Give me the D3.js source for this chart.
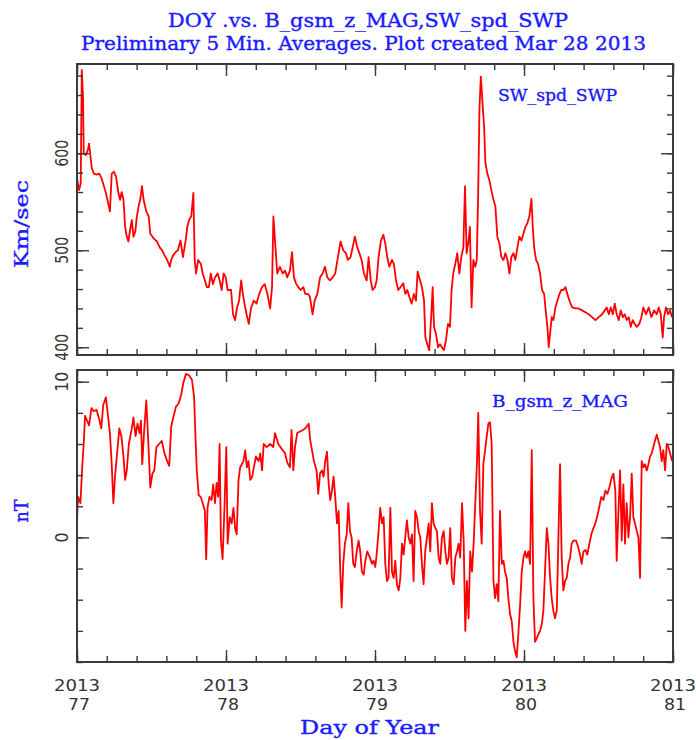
<!DOCTYPE html>
<html>
<head>
<meta charset="utf-8">
<script src="https://cdn.jsdelivr.net/npm/d3@7"></script>
<style>
	html, body { margin: 0; padding: 0; background: #fff; }
	#chart { width: 696px; height: 740px; }
	.axis line { stroke: #3a3a3a; stroke-width: 1.4; }
	.tick-label { font-family: "DejaVu Sans", sans-serif; fill: #333; }
	.blue-label { font-family: "DejaVu Serif", serif; fill: #1a1aff; stroke: #1a1aff; stroke-width: 0.35; }
</style>
</head>
<body>
<div id="chart"></div>
<script>
// ----------------------------------
// DATA
// ----------------------------------

const dayTicks = [77, 78, 79, 80, 81];
const yearLabel = "2013";

const speedTicks = [400, 500, 600];
const bzTicks = [0, 10];

// SW_spd_SWP, Km/sec
const swDoy = [
	77.000,77.014,77.025,77.032,77.041,77.045,77.059,77.074,77.081,77.090,77.099,77.113,77.131,77.149,77.165,77.181,
	77.194,77.210,77.221,77.233,77.248,77.262,77.278,77.289,77.300,77.312,77.323,77.334,77.345,77.357,77.368,77.379,
	77.391,77.402,77.413,77.424,77.436,77.447,77.465,77.481,77.492,77.515,77.537,77.555,77.571,77.587,77.605,77.623,
	77.632,77.646,77.661,77.677,77.695,77.711,77.729,77.740,77.752,77.767,77.781,77.790,77.799,77.813,77.831,77.844,
	77.858,77.871,77.885,77.898,77.912,77.926,77.944,77.957,77.971,77.984,77.998,78.011,78.034,78.047,78.061,78.074,
	78.088,78.102,78.113,78.124,78.138,78.153,78.169,78.187,78.205,78.223,78.242,78.260,78.278,78.296,78.309,78.318,
	78.332,78.344,78.362,78.380,78.396,78.411,78.429,78.443,78.456,78.469,78.485,78.501,78.519,78.532,78.550,78.563,
	78.581,78.595,78.613,78.631,78.648,78.664,78.680,78.698,78.716,78.733,78.751,78.769,78.787,78.805,78.818,78.836,
	78.850,78.865,78.881,78.895,78.910,78.926,78.944,78.957,78.971,78.984,79.000,79.011,79.024,79.040,79.056,79.069,
	79.082,79.096,79.114,79.127,79.141,79.156,79.172,79.190,79.203,79.217,79.230,79.246,79.261,79.275,79.286,79.302,
	79.315,79.329,79.338,79.351,79.364,79.378,79.387,79.396,79.409,79.423,79.436,79.449,79.463,79.476,79.490,79.503,
	79.514,79.525,79.539,79.552,79.566,79.579,79.593,79.604,79.615,79.628,79.637,79.648,79.660,79.673,79.683,79.692,
	79.701,79.710,79.716,79.723,79.732,79.741,79.754,79.768,79.781,79.795,79.808,79.821,79.835,79.848,79.862,79.875,
	79.889,79.902,79.915,79.929,79.942,79.956,79.969,79.983,79.996,80.009,80.023,80.036,80.050,80.059,80.068,80.081,
	80.094,80.108,80.121,80.135,80.148,80.157,80.166,80.175,80.186,80.197,80.211,80.224,80.238,80.251,80.264,80.278,
	80.291,80.305,80.323,80.345,80.367,80.390,80.412,80.434,80.457,80.479,80.502,80.524,80.542,80.555,80.569,80.582,
	80.596,80.609,80.622,80.636,80.649,80.663,80.676,80.689,80.703,80.716,80.730,80.743,80.757,80.774,80.788,80.801,
	80.819,80.837,80.855,80.873,80.891,80.904,80.918,80.931,80.940,80.953,80.967,80.980,80.994
];
const swSpeed = [
	574,562,569,686,655,600,598,604,610,597,585,579,578,579,574,566,
	559,548,540,579,581,576,559,552,560,552,524,514,509,522,531,514,
	519,535,545,552,566,552,540,535,517,512,509,503,500,495,490,483,
	490,495,498,500,510,493,510,524,531,535,559,490,476,490,486,476,
	469,462,462,476,465,472,476,469,459,476,472,459,459,434,428,441,
	448,469,455,445,434,424,441,448,445,455,462,465,455,440,462,535,
	503,476,483,476,479,472,479,498,472,466,462,459,462,455,455,452,
	434,448,455,472,476,483,472,469,472,476,493,509,500,497,490,493,
	503,514,503,497,490,476,469,493,469,459,462,469,493,510,516,507,
	493,483,490,486,469,459,462,466,455,459,452,445,455,448,478,469,
	462,448,410,403,397,434,462,421,414,400,403,400,397,407,424,421,
	459,476,486,497,476,493,503,566,497,510,524,441,490,483,490,555,
	645,679,666,648,628,590,579,572,562,552,545,514,507,493,490,497,
	490,476,493,497,490,503,514,510,517,524,528,535,553,524,503,490,
	486,476,459,455,434,421,400,414,431,428,441,448,455,459,459,462,
	455,448,441,440,440,438,436,434,431,428,431,434,438,441,434,441,
	434,445,434,428,438,431,434,428,431,421,428,424,421,424,431,441,
	434,441,431,438,434,441,434,410,431,441,434,438,431
];

// B_gsm_z_MAG, nT
const bzDoy = [
	77.000,77.007,77.023,77.036,77.045,77.054,77.068,77.081,77.097,77.113,77.131,77.149,77.163,77.176,77.194,77.208,
	77.221,77.233,77.244,77.255,77.271,77.284,77.298,77.312,77.323,77.334,77.348,77.366,77.379,77.393,77.406,77.420,
	77.429,77.438,77.451,77.465,77.479,77.492,77.506,77.519,77.533,77.551,77.569,77.587,77.605,77.619,77.632,77.646,
	77.664,77.682,77.700,77.713,77.731,77.754,77.772,77.786,77.795,77.804,77.817,77.831,77.844,77.858,77.867,77.876,
	77.889,77.903,77.914,77.926,77.937,77.948,77.957,77.966,77.977,77.989,78.002,78.011,78.025,78.038,78.050,78.061,
	78.072,78.084,78.095,78.106,78.117,78.129,78.140,78.151,78.163,78.176,78.187,78.201,78.219,78.230,78.242,78.253,
	78.273,78.296,78.317,78.329,78.351,78.373,78.396,78.411,78.429,78.440,78.452,78.463,78.478,78.496,78.519,78.541,
	78.555,78.566,78.577,78.590,78.608,78.619,78.631,78.644,78.655,78.666,78.678,78.689,78.700,78.711,78.722,78.733,
	78.745,78.756,78.767,78.776,78.787,78.798,78.810,78.821,78.832,78.843,78.854,78.865,78.877,78.890,78.901,78.912,
	78.924,78.935,78.948,78.966,78.980,78.991,79.002,79.013,79.024,79.035,79.047,79.058,79.069,79.080,79.091,79.103,
	79.114,79.125,79.136,79.147,79.159,79.170,79.181,79.192,79.203,79.214,79.226,79.237,79.248,79.259,79.270,79.282,
	79.293,79.304,79.315,79.326,79.337,79.349,79.360,79.371,79.382,79.393,79.405,79.416,79.427,79.438,79.449,79.461,
	79.472,79.483,79.494,79.505,79.516,79.528,79.539,79.550,79.561,79.572,79.584,79.595,79.606,79.617,79.628,79.639,
	79.651,79.662,79.673,79.684,79.693,79.705,79.716,79.727,79.739,79.750,79.761,79.772,79.783,79.795,79.806,79.817,
	79.828,79.839,79.851,79.862,79.873,79.884,79.895,79.906,79.918,79.929,79.940,79.951,79.962,79.974,79.985,79.996,
	80.007,80.018,80.029,80.041,80.052,80.063,80.074,80.085,80.097,80.108,80.119,80.130,80.141,80.153,80.164,80.175,
	80.186,80.197,80.208,80.220,80.231,80.242,80.253,80.264,80.276,80.287,80.298,80.309,80.320,80.332,80.349,80.363,
	80.376,80.387,80.399,80.412,80.425,80.439,80.452,80.466,80.479,80.493,80.506,80.519,80.533,80.546,80.560,80.573,
	80.587,80.600,80.613,80.622,80.634,80.645,80.656,80.667,80.678,80.689,80.701,80.712,80.723,80.734,80.745,80.757,
	80.768,80.779,80.790,80.801,80.812,80.824,80.835,80.846,80.857,80.868,80.879,80.891,80.902,80.913,80.924,80.935,
	80.947,80.958,80.969,80.980,80.994
];
const bzNt = [
	1.1,2.6,2.2,4.7,6.0,7.8,7.5,7.2,8.3,8.1,8.2,7.6,7.0,8.5,9.0,7.8,
	6.7,4.7,2.2,3.9,5.6,7.0,6.5,5.2,3.7,4.3,6.0,6.9,7.7,6.5,7.3,6.7,
	7.5,4.7,6.9,8.8,6.0,3.2,4.1,4.3,5.8,6.0,6.2,5.4,4.9,4.6,7.1,7.7,
	8.4,8.6,9.2,9.9,10.5,10.4,10.1,9.0,6.5,4.3,2.7,2.6,2.2,1.7,-1.4,1.9,
	2.6,2.4,3.4,2.2,3.5,2.6,6.0,-0.2,-1.4,1.7,5.8,-0.4,1.3,0.9,1.9,0.6,
	0.2,3.7,4.5,4.7,4.9,5.6,4.5,4.9,3.7,3.9,4.5,5.2,4.9,5.4,4.3,6.0,
	5.8,6.0,5.8,6.7,6.0,5.7,5.4,4.8,4.5,6.9,4.3,5.8,6.7,6.8,6.9,7.1,
	7.3,6.2,5.6,4.9,4.3,2.8,4.1,4.3,3.9,4.9,5.5,3.4,2.4,3.0,3.9,2.6,
	0.9,1.7,-2.2,-4.5,-1.7,-0.4,0.2,2.2,0.4,0.0,-1.7,-1.9,-0.9,-0.2,-0.9,-2.2,
	-2.4,-1.5,-0.9,-1.3,-1.7,-1.5,-1.9,-0.9,0.4,1.9,0.9,1.3,-1.7,-2.8,-2.6,1.9,
	-2.2,-2.6,-1.5,-3.0,-3.4,-2.6,-0.4,-1.1,0.0,1.1,0.0,-0.4,0.2,-2.8,1.7,1.3,
	0.4,0.0,-1.7,-3.0,-0.9,0.0,0.9,-0.9,2.2,0.9,0.6,0.4,-1.3,-1.7,0.0,0.4,
	-0.9,-1.7,-1.3,0.6,-2.6,-3.0,-1.3,-0.9,-0.4,-1.3,2.2,-0.2,-6.0,-2.8,-5.2,-0.9,
	-2.2,-0.4,2.2,4.7,8.0,1.7,-0.4,4.7,5.6,6.5,7.3,7.4,6.0,-2.8,-3.9,-3.0,
	-4.1,1.7,-1.7,-1.5,-2.2,-2.6,-3.9,-4.9,-5.4,-6.7,-7.3,-7.7,-6.2,-4.3,-2.2,-1.3,
	-0.9,-1.3,-0.9,-1.7,5.6,-3.9,-6.7,-6.5,-6.2,-6.0,-5.6,-4.7,-2.2,0.6,-0.4,-2.6,
	-3.9,-4.7,-5.2,-4.7,0.0,4.7,-1.3,-3.4,-2.8,-2.6,-1.7,-1.3,-0.4,-0.2,-0.2,-0.6,
	-1.1,-1.7,-0.9,-0.8,-1.1,-0.4,0.2,0.6,0.9,1.4,2.0,2.6,2.4,3.0,2.8,3.2,
	3.8,4.1,3.0,-1.5,1.7,4.3,-0.2,3.4,-0.4,2.2,0.0,1.3,4.1,1.3,0.9,0.4,
	0.0,-2.6,4.9,4.5,4.7,4.3,4.7,5.2,5.4,5.8,6.2,6.6,6.2,5.8,4.9,5.6,
	4.3,6.0,5.8,5.4,4.9
];

// ----------------------------------
// LAYOUT
// ----------------------------------

const app = {
	width: 696,
	height: 740,
	left: 77,
	right: 673,
	lineColor: '#ff0000',
	panels: [
		{
			id: 'speed',
			top: 64, bottom: 355,
			domain: [392, 692],
			minorStep: 20,
			doy: swDoy, values: swSpeed,
			ticks: speedTicks,
			tickLen: [27, 27, 27],
			unit: 'Km/sec', unitY: 224, unitLen: 88,
			name: 'SW_spd_SWP', nameX: 498, nameY: 101, nameLen: 119
		},
		{
			id: 'bz',
			top: 370, bottom: 662,
			domain: [-8, 10.75],
			minorStep: 2,
			doy: bzDoy, values: bzNt,
			ticks: bzTicks,
			tickLen: [10, 20],
			unit: 'nT', unitY: 511, unitLen: 23,
			name: 'B_gsm_z_MAG', nameX: 492, nameY: 407, nameLen: 136
		}
	]
};

const svg = d3.select('#chart')
	.append('svg')
	.attr('width', app.width)
	.attr('height', app.height);

const xScale = d3.scaleLinear()
	.domain([dayTicks[0], dayTicks[dayTicks.length - 1]])
	.range([app.left, app.right]);

const xMinor = d3.range(dayTicks[0], dayTicks[dayTicks.length - 1] + 0.001, 0.2);

// ----------------------------------
// PANELS
// ----------------------------------

app.panels.forEach(p => {
	const yScale = d3.scaleLinear()
		.domain(p.domain)
		.range([p.bottom, p.top]);

	const yMinor = d3.range(Math.ceil(p.domain[0] / p.minorStep) * p.minorStep, p.domain[1], p.minorStep);

	const g = svg.append('g').attr('class', `panel panel--${p.id}`);

	// clip so the trace stays inside the frame
	g.append('clipPath')
		.attr('id', `clip-${p.id}`)
		.append('rect')
		.attr('x', app.left)
		.attr('y', p.top)
		.attr('width', app.right - app.left)
		.attr('height', p.bottom - p.top);

	const line = d3.line()
		.x((d, i) => xScale(p.doy[i]))
		.y(d => yScale(d));

	g.append('path')
		.datum(p.values)
		.attr('clip-path', `url(#clip-${p.id})`)
		.attr('d', line)
		.attr('fill', 'none')
		.attr('stroke', app.lineColor)
		.attr('stroke-width', 1.8)
		.attr('stroke-linejoin', 'round');

	// inward ticks on all four sides: minor first, then longer majors
	const addAxis = (axisFn, scale, values, size, transform) => {
		g.append('g')
			.attr('class', 'axis')
			.attr('transform', transform)
			.call(axisFn(scale).tickValues(values).tickSize(size).tickSizeOuter(0).tickFormat(''))
			.call(a => a.select('.domain').remove());
	};

	addAxis(d3.axisLeft, yScale, yMinor, -6, `translate(${app.left},0)`);
	addAxis(d3.axisLeft, yScale, p.ticks, -12, `translate(${app.left},0)`);
	addAxis(d3.axisRight, yScale, yMinor, -6, `translate(${app.right},0)`);
	addAxis(d3.axisRight, yScale, p.ticks, -12, `translate(${app.right},0)`);
	addAxis(d3.axisBottom, xScale, xMinor, -6, `translate(0,${p.bottom})`);
	addAxis(d3.axisBottom, xScale, dayTicks, -12, `translate(0,${p.bottom})`);
	addAxis(d3.axisTop, xScale, xMinor, -6, `translate(0,${p.top})`);
	addAxis(d3.axisTop, xScale, dayTicks, -12, `translate(0,${p.top})`);

	g.append('rect')
		.attr('x', app.left)
		.attr('y', p.top)
		.attr('width', app.right - app.left)
		.attr('height', p.bottom - p.top)
		.attr('fill', 'none')
		.attr('stroke', '#3a3a3a')
		.attr('stroke-width', 2);

	// rotated y tick labels
	p.ticks.forEach((v, i) => {
		g.append('text')
			.attr('class', 'tick-label')
			.attr('transform', `translate(68,${yScale(v)}) rotate(-90)`)
			.attr('text-anchor', 'middle')
			.attr('font-size', 17)
			.attr('textLength', p.tickLen[i])
			.attr('lengthAdjust', 'spacingAndGlyphs')
			.text(v);
	});

	g.append('text')
		.attr('class', 'blue-label')
		.attr('transform', `translate(28,${p.unitY}) rotate(-90)`)
		.attr('text-anchor', 'middle')
		.attr('font-size', 18)
		.attr('textLength', p.unitLen)
		.attr('lengthAdjust', 'spacingAndGlyphs')
		.text(p.unit);

	g.append('text')
		.attr('class', 'blue-label')
		.attr('x', p.nameX)
		.attr('y', p.nameY)
		.attr('font-size', 17)
		.attr('textLength', p.nameLen)
		.attr('lengthAdjust', 'spacingAndGlyphs')
		.text(p.name);
});

// ----------------------------------
// X LABELS AND TITLES
// ----------------------------------

dayTicks.forEach(d => {
	svg.append('text')
		.attr('class', 'tick-label')
		.attr('x', xScale(d))
		.attr('y', 691)
		.attr('text-anchor', 'middle')
		.attr('font-size', 16)
		.attr('textLength', 46)
		.attr('lengthAdjust', 'spacingAndGlyphs')
		.text(yearLabel);

	svg.append('text')
		.attr('class', 'tick-label')
		.attr('x', xScale(d) + 2)
		.attr('y', 710)
		.attr('text-anchor', 'middle')
		.attr('font-size', 16)
		.attr('textLength', 22)
		.attr('lengthAdjust', 'spacingAndGlyphs')
		.text(d);
});

svg.append('text')
	.attr('class', 'blue-label')
	.attr('x', 300)
	.attr('y', 734)
	.attr('font-size', 18)
	.attr('textLength', 139)
	.attr('lengthAdjust', 'spacingAndGlyphs')
	.text('Day of Year');

svg.append('text')
	.attr('class', 'blue-label')
	.attr('x', 168)
	.attr('y', 27)
	.attr('font-size', 19)
	.attr('textLength', 400)
	.attr('lengthAdjust', 'spacingAndGlyphs')
	.text('DOY .vs. B_gsm_z_MAG,SW_spd_SWP');

svg.append('text')
	.attr('class', 'blue-label')
	.attr('x', 81)
	.attr('y', 50)
	.attr('font-size', 18)
	.attr('textLength', 565)
	.attr('lengthAdjust', 'spacingAndGlyphs')
	.text('Preliminary 5 Min. Averages. Plot created Mar 28 2013');
</script>
</body>
</html>
